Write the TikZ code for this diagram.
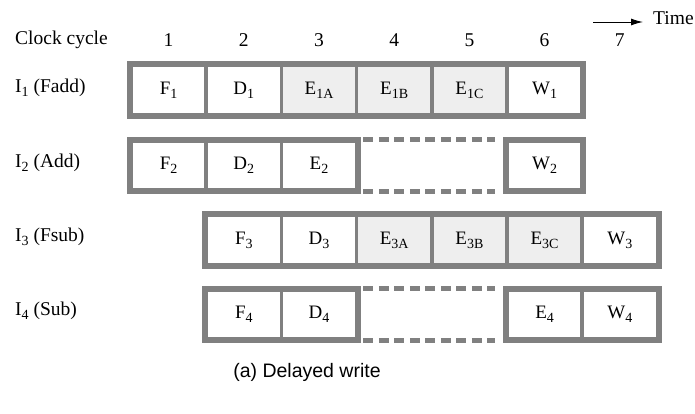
\documentclass[tikz,border=0pt]{standalone}
\usepackage{fontspec}
\setmainfont{Liberation Serif}
\setsansfont{Liberation Sans}
\usetikzlibrary{arrows.meta}
\definecolor{bordergray}{HTML}{808080}
\definecolor{cellgray}{HTML}{EEEEEE}
\newcommand\sbs[1]{\raisebox{-0.45ex}{\fontsize{14}{14}\selectfont #1}}
\begin{document}
\begin{tikzpicture}[x=1pt,y=-1pt,
 cell/.style={draw=bordergray, line width=3.5pt, minimum width=75.2pt, minimum height=49pt, inner sep=0pt, font=\fontsize{19}{19}\selectfont, anchor=center},
 ex/.style={cell, fill=cellgray},
 frame/.style={draw=bordergray, line width=5pt},
 gapline/.style={draw=bordergray, line width=5pt, dash pattern=on 10pt off 5.5pt},
 lbl/.style={anchor=west, font=\fontsize{19.5}{19.5}\selectfont, inner sep=0pt},
 num/.style={font=\fontsize{19.5}{19.5}\selectfont, inner sep=0pt}]
\useasboundingbox (0,0) rectangle (695,413);

% header
\node[lbl] (cc) at (15,40) {Clock cycle};
\foreach \i in {1,...,7} {
  \node[num] (n\i) at ({131+75.2*(\i-0.5)},40) {\i};
}
\coordinate (ta) at (593,22);
\coordinate (tb) at (643,22);
\draw[line width=1pt,-{Latex[length=12pt,width=7pt]}] (ta) -- (tb);
\node[lbl] (time) at (653,18) {Time};

% row labels
\node[lbl] (l1) at (15,88) {I\sbs{1} (Fadd)};
\node[lbl] (l2) at (15,163) {I\sbs{2} (Add)};
\node[lbl] (l3) at (15,237) {I\sbs{3} (Fsub)};
\node[lbl] (l4) at (15,311) {I\sbs{4} (Sub)};

% row 1
\node[cell] (r1c1) at (168.6,90) {F\sbs{1}};
\node[cell] (r1c2) at (243.8,90) {D\sbs{1}};
\node[ex]   (r1c3) at (319.0,90) {E\sbs{1A}};
\node[ex]   (r1c4) at (394.2,90) {E\sbs{1B}};
\node[ex]   (r1c5) at (469.4,90) {E\sbs{1C}};
\node[cell] (r1c6) at (544.6,90) {W\sbs{1}};
\draw[frame] (r1c1.north west) rectangle (r1c6.south east);

% row 2
\node[cell] (r2c1) at (168.6,165.5) {F\sbs{2}};
\node[cell] (r2c2) at (243.8,165.5) {D\sbs{2}};
\node[cell] (r2c3) at (319.0,165.5) {E\sbs{2}};
\node[cell] (r2c6) at (544.6,165.5) {W\sbs{2}};
\draw[frame] (r2c1.north west) rectangle (r2c3.south east);
\draw[frame] (r2c6.north west) rectangle (r2c6.south east);
\draw[gapline] ([xshift=5pt]r2c3.north east) -- ([xshift=-10pt]r2c6.north west);
\draw[gapline] ([xshift=5pt]r2c3.south east) -- ([xshift=-10pt]r2c6.south west);

% row 3
\node[cell] (r3c2) at (243.8,240) {F\sbs{3}};
\node[cell] (r3c3) at (319.0,240) {D\sbs{3}};
\node[ex]   (r3c4) at (394.2,240) {E\sbs{3A}};
\node[ex]   (r3c5) at (469.4,240) {E\sbs{3B}};
\node[ex]   (r3c6) at (544.6,240) {E\sbs{3C}};
\node[cell] (r3c7) at (619.8,240) {W\sbs{3}};
\draw[frame] (r3c2.north west) rectangle (r3c7.south east);

% row 4
\node[cell] (r4c2) at (243.8,314.5) {F\sbs{4}};
\node[cell] (r4c3) at (319.0,314.5) {D\sbs{4}};
\node[cell] (r4c6) at (544.6,314.5) {E\sbs{4}};
\node[cell] (r4c7) at (619.8,314.5) {W\sbs{4}};
\draw[frame] (r4c2.north west) rectangle (r4c3.south east);
\draw[frame] (r4c6.north west) rectangle (r4c7.south east);
\draw[gapline] ([xshift=5pt]r4c3.north east) -- ([xshift=-10pt]r4c6.north west);
\draw[gapline] ([xshift=5pt]r4c3.south east) -- ([xshift=-10pt]r4c6.south west);

% caption
\node[font=\sffamily\fontsize{19.5}{19.5}\selectfont, inner sep=0pt] (cap) at (307,372) {(a) Delayed write};
\end{tikzpicture}
\end{document}
